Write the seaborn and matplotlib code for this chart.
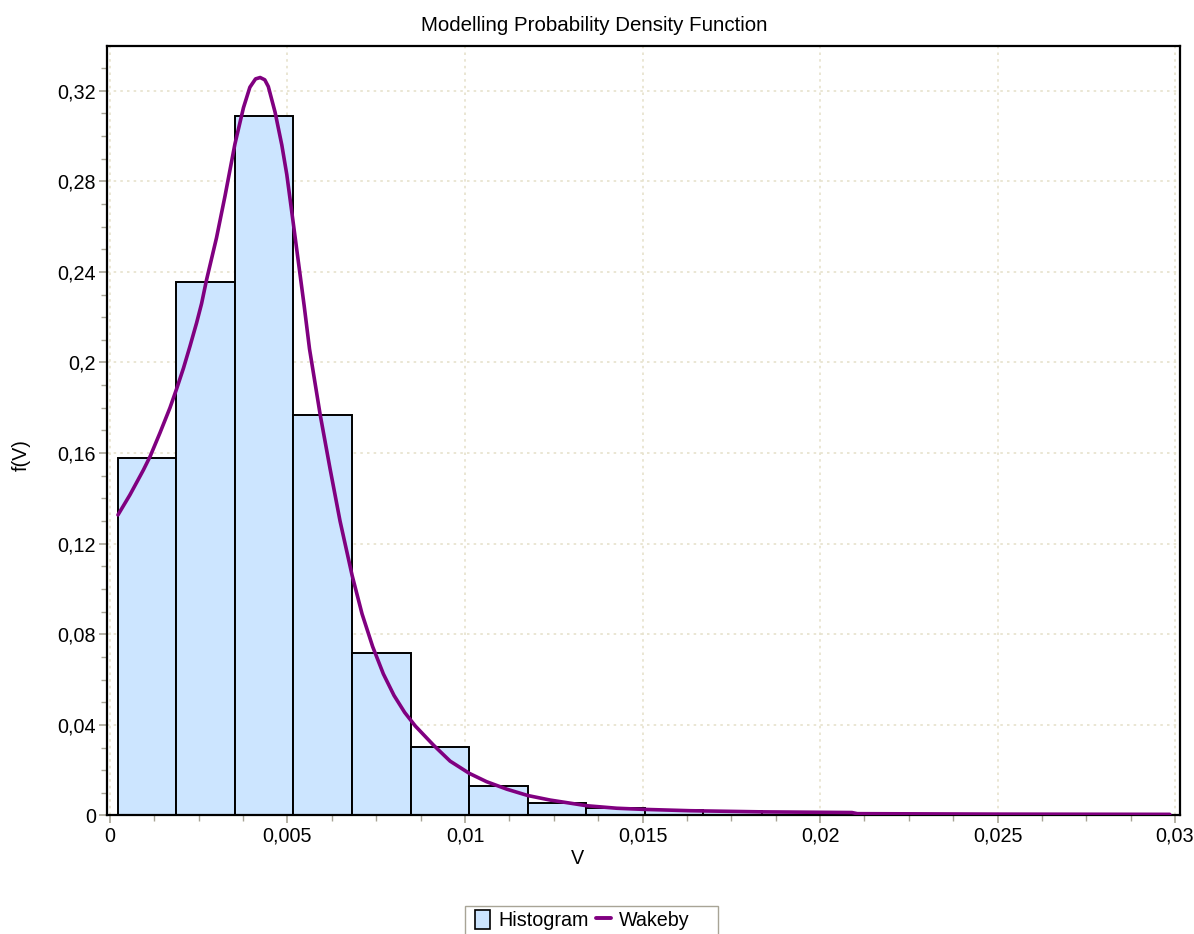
import numpy as np
import pandas as pd
import seaborn as sns
import matplotlib
matplotlib.use("Agg")
import matplotlib.pyplot as plt
from matplotlib.patches import Patch, Rectangle
from matplotlib.lines import Line2D
from matplotlib.ticker import MultipleLocator

# Histogram: 18 equal-width bins (relative frequencies)
bin_edges = [0.000225, 0.001873, 0.003521, 0.005169, 0.006817, 0.008465,
             0.010113, 0.011761, 0.013409, 0.015057, 0.016705, 0.018353,
             0.020001, 0.021649, 0.023297, 0.024945, 0.026593, 0.028241,
             0.029889]
bin_heights = [0.158, 0.2355, 0.309, 0.177, 0.0718, 0.0302, 0.0130, 0.0054,
               0.0032, 0.0025, 0.0019, 0.0015, 0.0012, 0.0006, 0.0005,
               0.0004, 0.0003, 0.0002]

# Fitted Wakeby density, sampled along V
wakeby_x = [0.000225, 0.00056, 0.00094, 0.00113, 0.00141, 0.00169, 0.00188,
            0.00207, 0.00225, 0.00244, 0.00258, 0.00272, 0.00300, 0.00324,
            0.00352, 0.00376, 0.00394, 0.00410, 0.00423, 0.00436, 0.00446,
            0.00465, 0.00484, 0.00498, 0.00515, 0.00531, 0.00547, 0.00562,
            0.00592, 0.00620, 0.00648, 0.00682, 0.00710, 0.00740, 0.00770,
            0.00800, 0.00830, 0.00860, 0.00911, 0.00958, 0.01012, 0.01061,
            0.01118, 0.01177, 0.01240, 0.01343, 0.01427, 0.01502, 0.01634,
            0.01835, 0.02090, 0.02105, 0.02500, 0.02985]
wakeby_y = [0.1327, 0.1415, 0.1525, 0.1585, 0.1690, 0.1800, 0.1885,
            0.1975, 0.2070, 0.2175, 0.2260, 0.2365, 0.2550, 0.2735,
            0.2965, 0.3125, 0.3215, 0.3252, 0.3258, 0.3248, 0.3218,
            0.3105, 0.2960, 0.2830, 0.2630, 0.2440, 0.2250, 0.2060,
            0.1770, 0.1530, 0.1300, 0.1060, 0.0890, 0.0745, 0.0625,
            0.0530, 0.0455, 0.0395, 0.0311, 0.0240, 0.0186, 0.0149,
            0.0116, 0.0088, 0.0068, 0.0043, 0.0032, 0.0027, 0.0021,
            0.0016, 0.0013, 0.0008, 0.0006, 0.0005]

x_ticks = [0, 0.005, 0.01, 0.015, 0.02, 0.025, 0.03]
x_tick_labels = ["0", "0,005", "0,01", "0,015", "0,02", "0,025", "0,03"]
y_ticks = [0, 0.04, 0.08, 0.12, 0.16, 0.2, 0.24, 0.28, 0.32]
y_tick_labels = ["0", "0,04", "0,08", "0,12", "0,16", "0,2", "0,24", "0,28", "0,32"]

sns.set_theme(style="white")
plt.rcParams["font.family"] = ["Liberation Sans", "DejaVu Sans"]
plt.rcParams["text.color"] = "black"
plt.rcParams["axes.labelcolor"] = "black"

bar_color = "#cce5ff"
line_color = "#800080"
grid_color = "#e6e2cc"
tick_color = "#a8a496"
font_size = 14.2

fig = plt.figure(figsize=(11.94, 9.34), dpi=100)
ax = fig.add_axes([0.0896, 0.1269, 0.8987, 0.8238])

centers = [(a + b) / 2 for a, b in zip(bin_edges[:-1], bin_edges[1:])]
hist_df = pd.DataFrame({"V": centers, "freq": bin_heights})
sns.histplot(data=hist_df, x="V", weights="freq", bins=bin_edges,
             stat="count", color=bar_color, alpha=1.0,
             edgecolor="black", linewidth=1.4, ax=ax, zorder=2)

curve_df = pd.DataFrame({"V": wakeby_x, "f": wakeby_y})
sns.lineplot(data=curve_df, x="V", y="f", sort=False, color=line_color,
             linewidth=2.6, ax=ax, zorder=3,
             solid_joinstyle="round", solid_capstyle="round")

ax.set_xlim(-0.0000845, 0.03014)
ax.set_ylim(0, 0.3397)

ax.set_xticks(x_ticks)
ax.set_xticklabels(x_tick_labels)
ax.set_yticks(y_ticks)
ax.set_yticklabels(y_tick_labels)
ax.xaxis.set_minor_locator(MultipleLocator(0.00125))
ax.yaxis.set_minor_locator(MultipleLocator(0.01))

ax.tick_params(axis="both", which="major", direction="out", length=6,
               width=1.2, color=tick_color, labelsize=font_size,
               labelcolor="black", pad=2, bottom=True, left=True)
ax.tick_params(axis="both", which="minor", direction="out", length=4,
               width=1.0, color=tick_color, bottom=True, left=True)

ax.grid(True, which="major", linestyle=(0, (1.5, 2.5)), color=grid_color,
        linewidth=1.2, zorder=0)
ax.set_axisbelow(True)

for side in ["left", "right", "top", "bottom"]:
    ax.spines[side].set_visible(True)
    ax.spines[side].set_color("black")
    ax.spines[side].set_linewidth(1.6)

ax.set_xlabel("V", fontsize=font_size, color="black")
ax.xaxis.set_label_coords(0.438, -0.043)
ax.set_ylabel("f(V)", fontsize=font_size, color="black")
ax.yaxis.set_label_coords(-0.071, 0.4685)

# Chart title centred on the whole figure
fig.text(0.4975, 0.973, "Modelling Probability Density Function",
         fontsize=14.8, ha="center", va="center", color="black")

# Legend at the bottom edge, with its own frame
handles = [Patch(facecolor=bar_color, edgecolor="black", linewidth=1.2),
           Line2D([0], [0], color=line_color, linewidth=2.8)]
leg = fig.legend(handles, ["Histogram", "Wakeby"], loc="upper left",
                 bbox_to_anchor=(0.3975, 0.0255), ncol=2, frameon=False,
                 fontsize=font_size, handlelength=0.8, handleheight=1.1,
                 handletextpad=0.4, columnspacing=0.35, borderpad=0,
                 borderaxespad=0, labelcolor="black")
fig.patches.append(Rectangle((465 / 1194, -0.01), 253 / 1194, 0.01 + 28 / 934,
                             transform=fig.transFigure, facecolor="none",
                             edgecolor="#a8a496", linewidth=1.0))

fig.savefig("out.png", dpi=100)
